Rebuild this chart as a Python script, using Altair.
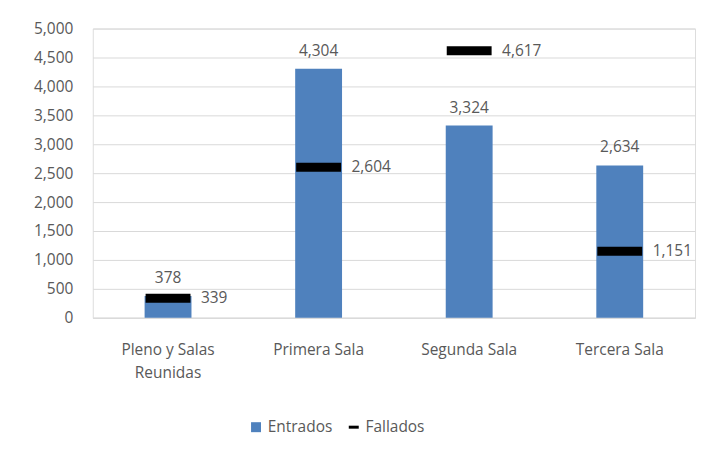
import altair as alt
import pandas as pd

categories = ["Pleno y Salas Reunidas", "Primera Sala", "Segunda Sala", "Tercera Sala"]
entrados = [378, 4304, 3324, 2634]
fallados = [339, 2604, 4617, 1151]
series = ["Entrados", "Fallados"]
colors = ["#4F81BD", "#000000"]
y_ticks = list(range(0, 5001, 500))

rows = []
for c, e, f in zip(categories, entrados, fallados):
    rows.append({"cat": c, "serie": "Entrados", "valor": e})
    rows.append({"cat": c, "serie": "Fallados", "valor": f})
df = pd.DataFrame(rows)

FONT = "Open Sans"
GRAY = "#595959"
FS = 15.5

x_enc = alt.X(
    "cat:N",
    sort=categories,
    scale=alt.Scale(paddingInner=0, paddingOuter=0),
    axis=alt.Axis(
        title=None,
        labelAngle=0,
        ticks=False,
        domainColor="#d9d9d9",
        labelColor=GRAY,
        labelFont=FONT,
        labelFontSize=FS,
        labelPadding=25,
        labelLineHeight=23,
        labelBaseline="top",
        labelExpr="datum.label == 'Pleno y Salas Reunidas' ? ['Pleno y Salas', 'Reunidas'] : datum.label",
    ),
)
y_enc = alt.Y(
    "valor:Q",
    scale=alt.Scale(domain=[0, 5000], nice=False),
    axis=alt.Axis(
        title=None,
        values=y_ticks,
        format=",.0f",
        ticks=False,
        domain=False,
        gridColor="#d9d9d9",
        labelColor=GRAY,
        labelFont=FONT,
        labelFontSize=FS,
        labelPadding=20,
    ),
)


def legend(x, shape):
    return alt.Legend(
        title=None,
        orient="none",
        direction="horizontal",
        legendX=x,
        legendY=392,
        labelColor=GRAY,
        labelFont=FONT,
        labelFontSize=FS,
        symbolSize=100,
        symbolStrokeWidth=0,
        symbolType=shape,
        symbolOpacity=1,
        labelOffset=4,
        padding=0,
    )


color_bar = alt.Color(
    "serie:N",
    scale=alt.Scale(domain=[series[0]], range=[colors[0]]),
    legend=legend(156, "square"),
)
color_tick = alt.Color(
    "serie:N",
    scale=alt.Scale(domain=[series[1]], range=[colors[1]]),
    legend=legend(254, "M-1,-0.3H1V0.3H-1Z"),
)

base = alt.Chart(df)

bars = base.transform_filter(alt.datum.serie == "Entrados").mark_bar(size=47).encode(
    x=x_enc, y=y_enc, color=color_bar
)
ticks = base.transform_filter(alt.datum.serie == "Fallados").mark_tick(
    thickness=9, size=45, opacity=1
).encode(x=x_enc, y=y_enc, color=color_tick)

text_e = base.transform_filter(alt.datum.serie == "Entrados").mark_text(
    baseline="bottom", dy=-10, font=FONT, fontSize=FS, color=GRAY
).encode(x=x_enc, y=y_enc, text=alt.Text("valor:Q", format=","))

text_f = base.transform_filter(alt.datum.serie == "Fallados").mark_text(
    align="left", baseline="middle", dx=33, font=FONT, fontSize=FS, color=GRAY
).encode(x=x_enc, y=y_enc, text=alt.Text("valor:Q", format=","))

chart = (
    alt.layer(bars, ticks, text_e, text_f)
    .resolve_scale(color="independent")
    .resolve_legend(color="independent")
    .properties(
        width=604,
        height=290,
        autosize=alt.AutoSizeParams(type="none"),
        padding={"left": 85, "top": 20, "right": 10, "bottom": 135},
    )
    .configure_view(stroke=None)
    .configure(background="white")
)

chart.save("out.html", embed_options={"renderer": "svg", "actions": False})
